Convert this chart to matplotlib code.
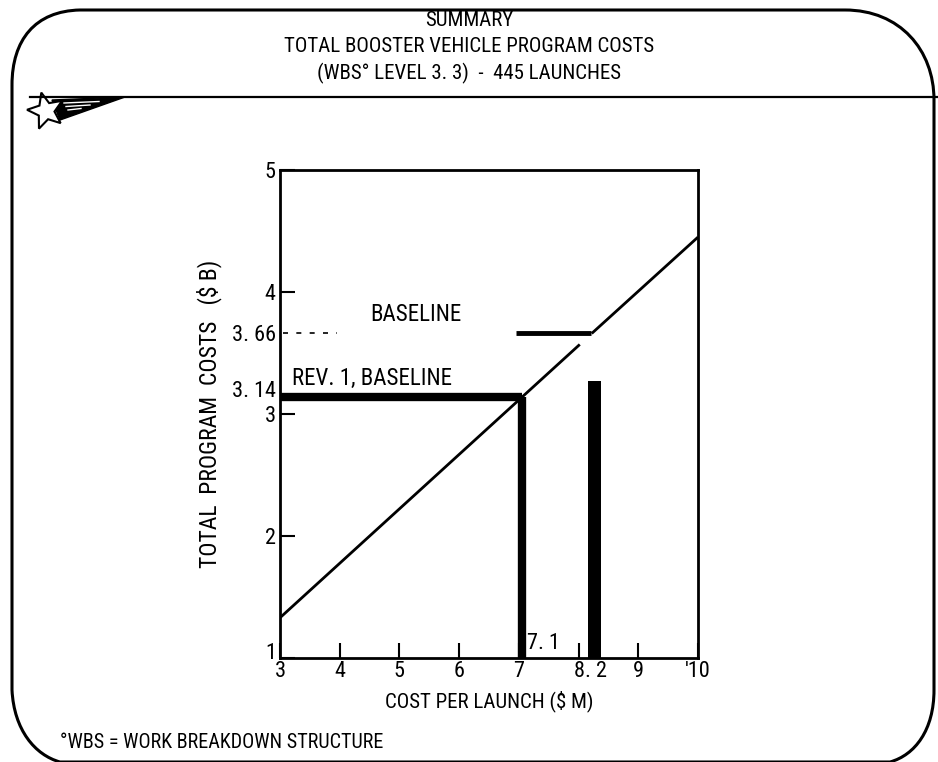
import matplotlib
matplotlib.use('Agg')
import matplotlib.pyplot as plt
from matplotlib.path import Path
from matplotlib.patches import PathPatch, Polygon
from matplotlib.lines import Line2D
from matplotlib.transforms import ScaledTranslation
import numpy as np

plt.rcParams['font.family'] = ['Roboto Condensed', 'Liberation Sans Narrow',
                               'Liberation Sans', 'DejaVu Sans']

W, H = 938, 762

# ---- data ----
cost_line_lower_x = [3, 8.02]        # cost per launch ($M)
cost_line_lower_y = [1.33, 3.57]     # total program cost ($B)
cost_line_upper_x = [8.22, 10]
cost_line_upper_y = [3.66, 4.45]
rev1_cost = 7.05
rev1_total = 3.14
baseline_cost = 8.2
baseline_total = 3.66
baseline_seg_start = 6.95
baseline_bar_x = 8.27
baseline_bar_top = 3.27
x_ticks = [3, 4, 5, 6, 7, 8, 9, 10]
x_tick_labels = ['3', '4', '5', '6', '7', '', '9', "'10"]
x_extra_ticks = [8.2]
x_extra_labels = ['8. 2']
y_ticks = [1, 2, 3, 4, 5]
y_tick_labels = ['1', '2', '3', '4', '5']
y_extra_ticks = [3.14, 3.66]
y_extra_labels = ['3. 14', '3. 66']

fig = plt.figure(figsize=(W / 100, H / 100), dpi=100)


def fx(x):
    return x / W


def fy(y):
    return 1 - y / H


# ---- frame with rounded corners ----
verts = [
    (12, 85),
    (12, 40), (35, 11), (80, 10),
    (845, 10),
    (900, 10), (934, 50), (934, 100),
    (934, 690),
    (934, 730), (915, 755), (890, 762),
    (60, 762),
    (35, 755), (14, 730), (12, 690),
    (12, 85),
]
codes = [Path.MOVETO,
         Path.CURVE4, Path.CURVE4, Path.CURVE4,
         Path.LINETO,
         Path.CURVE4, Path.CURVE4, Path.CURVE4,
         Path.LINETO,
         Path.CURVE4, Path.CURVE4, Path.CURVE4,
         Path.LINETO,
         Path.CURVE4, Path.CURVE4, Path.CURVE4,
         Path.LINETO]
path = Path([(fx(x), fy(y)) for x, y in verts], codes)
fig.patches.append(PathPatch(path, transform=fig.transFigure, fill=False,
                             lw=2.2, edgecolor='black'))

# separator line
fig.add_artist(Line2D([fx(30), fx(938)], [fy(97), fy(97)], lw=1.6, color='black'))

# star logo
cx, cy = 46, 111
pts = []
for i in range(10):
    r = 19 if i % 2 == 0 else 8.5
    a = np.pi / 2 + i * np.pi / 5 + 0.25
    pts.append((fx(cx + r * np.cos(a)), fy(cy - r * np.sin(a))))
wing = [(fx(52), fy(100)), (fx(125), fy(97)), (fx(60), fy(120))]
fig.patches.append(Polygon(wing, closed=True, transform=fig.transFigure,
                           facecolor='black', edgecolor='black', lw=1))
for k, yy in enumerate([103, 106.5, 110]):
    fig.add_artist(Line2D([fx(64 + k * 2), fx(99 - k * 9)], [fy(yy), fy(yy - 1.5)],
                          color='white', lw=1.0))
fig.patches.append(Polygon(pts, closed=True, transform=fig.transFigure,
                           facecolor='white', edgecolor='black', lw=1.5))

# titles
for txt, y in [('SUMMARY', 20), ('TOTAL BOOSTER VEHICLE PROGRAM COSTS', 47),
               ('(WBS° LEVEL 3. 3)  -  445 LAUNCHES', 73)]:
    fig.text(fx(469), fy(y), txt, ha='center', va='center', fontsize=15)

# ---- axes ----
ax = fig.add_axes([fx(280), fy(658), (698 - 280) / W, (658 - 170) / H])
ax.set_xlim(3, 10)
ax.set_ylim(1, 5)
for s in ax.spines.values():
    s.set_linewidth(2)

ax.set_xticks(x_ticks)
ax.set_xticklabels(x_tick_labels)
ax.set_xticks(x_extra_ticks, minor=True)
ax.set_xticklabels(x_extra_labels, minor=True)
ax.set_yticks(y_ticks)
ax.set_yticklabels(y_tick_labels)
ax.set_yticks(y_extra_ticks, minor=True)
ax.set_yticklabels(y_extra_labels, minor=True)
ax.tick_params(axis='both', which='major', direction='in', length=11, width=1.5,
               labelsize=16, pad=2)
ax.tick_params(axis='both', which='minor', length=0, labelsize=16, pad=2)
ax.tick_params(axis='y', which='both', pad=3)
# small vertical offsets of some labels, as in the reference
for lab in ax.get_yticklabels(minor=True):
    if lab.get_text() == '3. 14':
        lab.set_transform(lab.get_transform() +
                          ScaledTranslation(0, 6 / 72, fig.dpi_scale_trans))
for lab in ax.get_yticklabels():
    if lab.get_text() == '1':
        lab.set_transform(lab.get_transform() +
                          ScaledTranslation(0, 5 / 72, fig.dpi_scale_trans))

ax.set_xlabel('COST PER LAUNCH ($ M)', fontsize=15, labelpad=6)
ax.set_ylabel('TOTAL  PROGRAM  COSTS   ($ B)', fontsize=17, labelpad=7)

# cost line (with the small break seen in the reference)
ax.plot(cost_line_lower_x, cost_line_lower_y, color='black', lw=2,
        solid_capstyle='butt')
ax.plot(cost_line_upper_x, cost_line_upper_y, color='black', lw=2,
        solid_capstyle='butt')

# rev. 1 baseline
ax.plot([3, rev1_cost], [rev1_total, rev1_total], color='black', lw=6,
        solid_capstyle='butt')
ax.plot([rev1_cost, rev1_cost], [1, rev1_total], color='black', lw=6,
        solid_capstyle='butt')

# baseline
ax.plot([baseline_seg_start, baseline_cost], [baseline_total, baseline_total],
        color='black', lw=3.5, solid_capstyle='butt')
ax.plot([3.05, 3.95], [baseline_total, baseline_total], color='black', lw=1.2,
        dashes=(3, 5))
ax.bar([baseline_bar_x], [baseline_bar_top - 1], bottom=1, width=0.22,
       color='black')

ax.text(5.28, 3.72, 'BASELINE', ha='center', va='bottom', fontsize=16.5)
ax.text(3.2, 3.2, 'REV. 1, BASELINE', ha='left', va='bottom', fontsize=16.5)
ax.text(7.13, 1.03, '7. 1', ha='left', va='bottom', fontsize=16)

# footnote
fig.text(fx(60), fy(742), '°WBS = WORK BREAKDOWN STRUCTURE', ha='left',
         va='center', fontsize=14.5)

fig.savefig('out.png', dpi=100)
